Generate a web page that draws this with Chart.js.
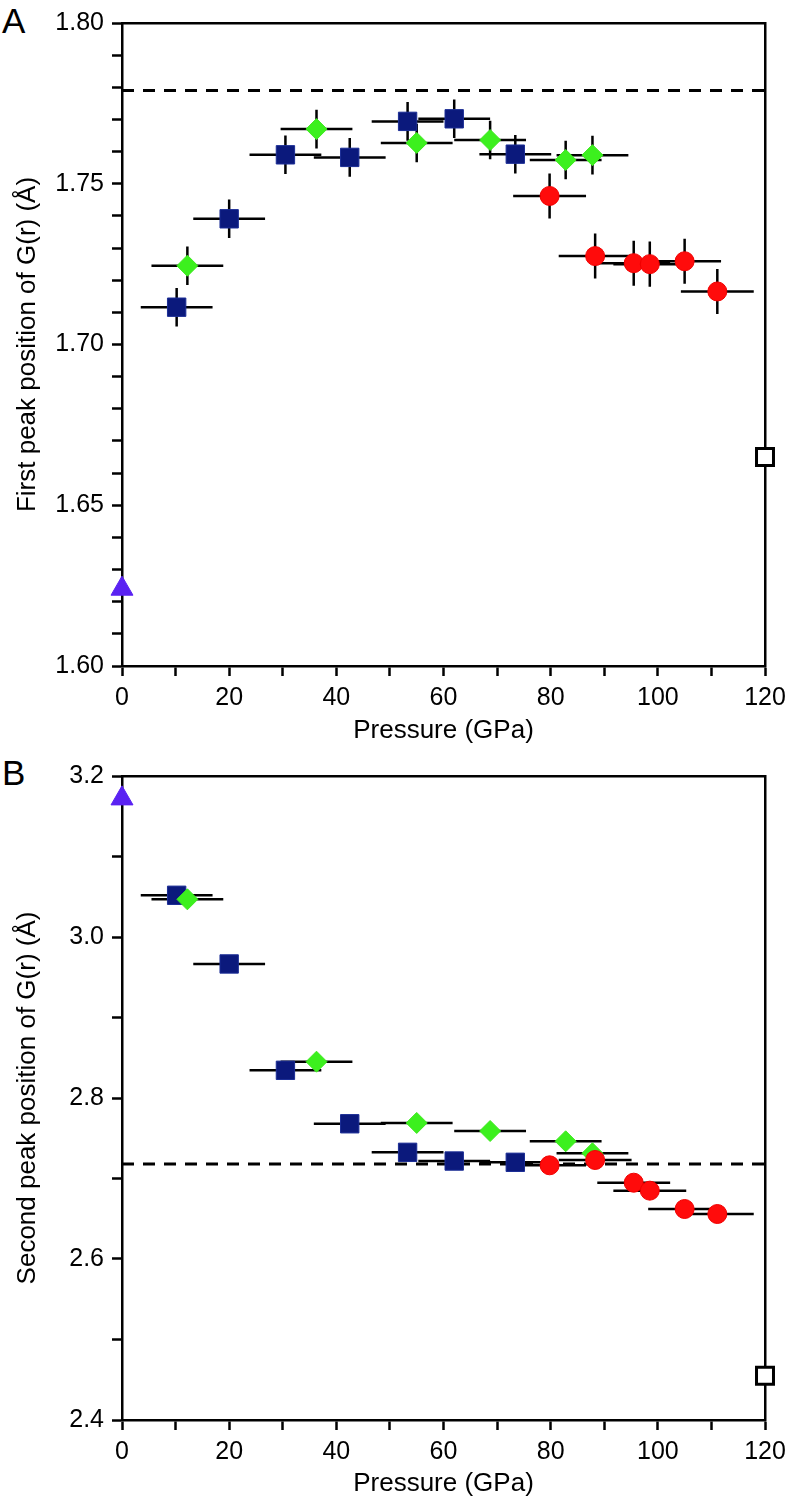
<!DOCTYPE html>
<html>
<head>
<meta charset="utf-8">
<script src="https://cdn.jsdelivr.net/npm/chart.js@4"></script>
<style>
  html, body { margin: 0; padding: 0; background: #fff; overflow: hidden; }
  body { width: 796px; height: 1501px; position: relative; font-family: "Liberation Sans", Arial, Helvetica, sans-serif; }
  canvas { position: absolute; left: 0; }
  .panel { position: absolute; left: 2px; font-size: 35px; line-height: 1; color: #000; }
</style>
</head>
<body>
<div class="panel" style="top:3px">A</div>
<div class="panel" style="top:755px">B</div>
<canvas id="c1" width="796" height="752" style="top:0px"></canvas>
<canvas id="c2" width="796" height="749" style="top:752px"></canvas>
<script>
// ---------- data ----------
const xTickLabels = ['0', '20', '40', '60', '80', '100', '120'];
const r1TickLabels = ['1.60', '1.65', '1.70', '1.75', '1.80'];
const r2TickLabels = ['2.4', '2.6', '2.8', '3.0', '3.2'];

const bluePressure = [10.2, 20.0, 30.5, 42.5, 53.3, 62.0, 73.4];
const blueR1 = [1.7116, 1.7391, 1.7590, 1.7582, 1.7694, 1.7702, 1.7592];
const blueR2 = [3.0518, 2.9665, 2.8344, 2.7680, 2.7325, 2.7217, 2.7201];
const bluePErr = [6.7, 6.7, 6.7, 6.7, 6.7, 6.7, 6.7];
const blueR1Err = [0.006, 0.006, 0.006, 0.006, 0.006, 0.006, 0.006];

const greenPressure = [12.2, 36.3, 55.0, 68.7, 82.8, 87.8];
const greenR1 = [1.7245, 1.7670, 1.7627, 1.7636, 1.7574, 1.7589];
const greenR2 = [3.0468, 2.8451, 2.7690, 2.7590, 2.7462, 2.7313];
const greenPErr = [6.7, 6.7, 6.7, 6.7, 6.7, 6.7];
const greenR1Err = [0.006, 0.006, 0.006, 0.006, 0.006, 0.006];

const redPressure = [79.8, 88.3, 95.5, 98.5, 105.0, 111.1];
const redR1 = [1.7462, 1.7275, 1.7253, 1.7250, 1.7259, 1.7165];
const redR2 = [2.7164, 2.7230, 2.6948, 2.6849, 2.6621, 2.6559];
const redPErr = [6.8, 6.8, 6.8, 6.8, 6.8, 6.8];
const redR1Err = [0.007, 0.007, 0.007, 0.007, 0.007, 0.007];

const trianglePressure = [0];
const triangleR1 = [1.624];
const triangleR2 = [3.172];

const openPressure = [120];
const openR1 = [1.665];
const openR2 = [2.455];

const refLinePressure = [0, 120];
const refR1 = [1.779, 1.779];
const refR2 = [2.718, 2.718];

// ---------- helpers ----------
const FONT = '"Liberation Sans", Arial, Helvetica, sans-serif';
Chart.defaults.font.family = FONT;
Chart.defaults.color = '#000';

function pts(xs, ys) { return xs.map((x, i) => ({x: x, y: ys[i]})); }

const errorBars = {
  id: 'errorBars',
  beforeDatasetsDraw(chart) {
    const {ctx} = chart;
    const xs = chart.scales.x, ys = chart.scales.y;
    ctx.save();
    ctx.strokeStyle = '#000';
    ctx.lineWidth = 2.5;
    ctx.lineCap = 'butt';
    chart.data.datasets.forEach(ds => {
      if (!ds.xErr && !ds.yErr) return;
      ds.data.forEach((p, i) => {
        const px = xs.getPixelForValue(p.x), py = ys.getPixelForValue(p.y);
        ctx.beginPath();
        if (ds.xErr) {
          ctx.moveTo(xs.getPixelForValue(p.x - ds.xErr[i]), py);
          ctx.lineTo(xs.getPixelForValue(p.x + ds.xErr[i]), py);
        }
        if (ds.yErr) {
          ctx.moveTo(px, ys.getPixelForValue(p.y - ds.yErr[i]));
          ctx.lineTo(px, ys.getPixelForValue(p.y + ds.yErr[i]));
        }
        ctx.stroke();
      });
    });
    ctx.restore();
  }
};

function stepTicks(min, max, step) {
  return function(scale) {
    const n = Math.round((max - min) / step);
    const t = [];
    for (let i = 0; i <= n; i++) t.push({value: +(min + i * step).toFixed(6)});
    scale.ticks = t;
  };
}

function makeChart(id, cfg) {
  const frameAxis = (pos) => ({
    type: 'linear', position: pos,
    min: pos === 'top' ? 0 : cfg.yMin, max: pos === 'top' ? 120 : cfg.yMax,
    ticks: {display: false},
    grid: {display: true, drawOnChartArea: false, drawTicks: false},
    border: {display: true, color: '#000', width: 2.5},
    afterFit: (s) => { if (pos === 'top') s.height = 0; else s.width = 0; }
  });
  return new Chart(document.getElementById(id), {
    type: 'scatter',
    data: {datasets: cfg.datasets},
    options: {
      responsive: false,
      animation: false,
      events: [],
      layout: {padding: {top: cfg.padTop, right: 31, left: 0, bottom: 0}},
      plugins: {legend: {display: false}, tooltip: {enabled: false}},
      scales: {
        x: {
          type: 'linear', position: 'bottom', min: 0, max: 120,
          afterBuildTicks: stepTicks(0, 120, 10),
          afterFit: (s) => { s.height = cfg.xHeight; },
          ticks: {
            autoSkip: false, maxRotation: 0, padding: 7,
            font: {size: 25},
            callback: (v) => { const s = String(Math.round(v)); return xTickLabels.includes(s) ? s : ''; }
          },
          grid: {display: true, drawOnChartArea: false, drawTicks: true, tickLength: 10, tickWidth: 2.5, tickColor: '#000'},
          border: {display: true, color: '#000', width: 2.5},
          title: {display: true, text: 'Pressure (GPa)', font: {size: 26}, padding: {top: 0, bottom: cfg.titlePadBottom}}
        },
        y: {
          type: 'linear', position: 'left', min: cfg.yMin, max: cfg.yMax,
          afterBuildTicks: stepTicks(cfg.yMin, cfg.yMax, cfg.yStep),
          afterFit: (s) => { s.width = 122; },
          ticks: {
            autoSkip: false, padding: 8,
            font: {size: 25},
            callback: (v) => { const s = v.toFixed(cfg.yDigits); return cfg.yLabels.includes(s) ? s : ''; }
          },
          grid: {display: true, drawOnChartArea: false, drawTicks: true, tickLength: 10, tickWidth: 2.5, tickColor: '#000'},
          border: {display: true, color: '#000', width: 2.5},
          title: {display: true, text: cfg.yTitle, font: {size: 26}, padding: {top: 12, bottom: 0}}
        },
        xTop: frameAxis('top'),
        yRight: frameAxis('right')
      }
    },
    plugins: [errorBars]
  });
}

function datasetsFor(r1) {
  const blueY = r1 ? blueR1 : blueR2;
  const greenY = r1 ? greenR1 : greenR2;
  const redY = r1 ? redR1 : redR2;
  return [
    {label: 'red', data: pts(redPressure, redY), order: 1, clip: false,
     xErr: redPErr, yErr: r1 ? redR1Err : null,
     pointStyle: 'circle', pointRadius: 9.5, backgroundColor: '#ff0b0b', borderColor: '#f00000', borderWidth: 1},
    {label: 'green', data: pts(greenPressure, greenY), order: 2, clip: false,
     xErr: greenPErr, yErr: r1 ? greenR1Err : null,
     pointStyle: 'rectRot', pointRadius: 10.5, backgroundColor: '#3cf01e', borderColor: '#3ce81e', borderWidth: 1},
    {label: 'blue', data: pts(bluePressure, blueY), order: 3, clip: false,
     xErr: bluePErr, yErr: r1 ? blueR1Err : null,
     pointStyle: 'rect', pointRadius: 13, backgroundColor: '#0b197c', borderColor: '#1c2e96', borderWidth: 1},
    {label: 'triangle', data: pts(trianglePressure, r1 ? triangleR1 : triangleR2), order: 0, clip: false,
     pointStyle: 'triangle', pointRadius: 12.7, backgroundColor: '#5a22f2', borderColor: '#5a22f2', borderWidth: 1},
    {label: 'open', data: pts(openPressure, r1 ? openR1 : openR2), order: 0, clip: false,
     pointStyle: 'rect', pointRadius: 12, backgroundColor: '#fff', borderColor: '#000', borderWidth: 3},
    {label: 'ref', type: 'line', data: pts(refLinePressure, r1 ? refR1 : refR2), order: 9,
     showLine: true, pointRadius: 0, borderColor: '#000', borderWidth: 3, borderDash: [12, 9], fill: false}
  ];
}

makeChart('c1', {
  yMin: 1.60, yMax: 1.80, yStep: 0.01, yDigits: 2, yLabels: r1TickLabels,
  yTitle: 'First peak position of G(r) (Å)',
  padTop: 23, xHeight: 86, titlePadBottom: 6,
  datasets: datasetsFor(true)
});
makeChart('c2', {
  yMin: 2.4, yMax: 3.2, yStep: 0.1, yDigits: 1, yLabels: r2TickLabels,
  yTitle: 'Second peak position of G(r) (Å)',
  padTop: 24, xHeight: 81, titlePadBottom: 2,
  datasets: datasetsFor(false)
});
</script>
</body>
</html>
